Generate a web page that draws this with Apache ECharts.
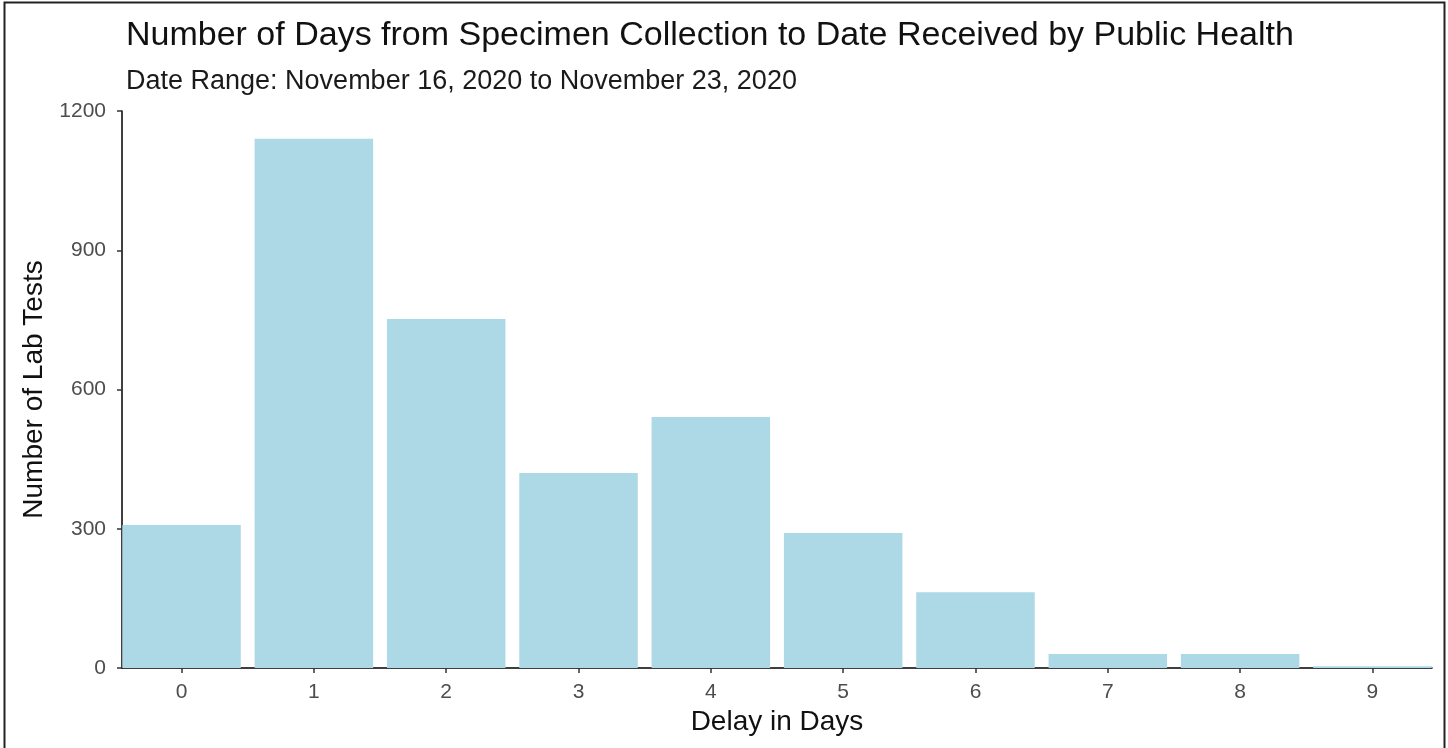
<!DOCTYPE html>
<html>
<head>
<meta charset="utf-8">
<script src="https://cdn.jsdelivr.net/npm/echarts@6/dist/echarts.min.js"></script>
<style>
html,body{margin:0;padding:0;background:#fff;}
#chart{width:1448px;height:748px;}
</style>
</head>
<body>
<div id="chart"></div>
<script>
var titleText = 'Number of Days from Specimen Collection to Date Received by Public Health';
var subtitleText = 'Date Range: November 16, 2020 to November 23, 2020';
var xAxisTitle = 'Delay in Days';
var yAxisTitle = 'Number of Lab Tests';
var delayDays = [0, 1, 2, 3, 4, 5, 6, 7, 8, 9];
var labTests = [308, 1140, 752, 420, 541, 291, 163, 30, 30, 4];
var yTicks = [0, 300, 600, 900, 1200];

var chart = echarts.init(document.getElementById('chart'), null, {renderer: 'canvas'});
var font = '"Liberation Sans", Arial, sans-serif';
var barData = delayDays.map(function (d, i) { return [d, labTests[i]]; });

chart.setOption({
  animation: false,
  backgroundColor: '#ffffff',
  title: [{
    text: titleText,
    left: 121,
    top: 14,
    textStyle: {fontFamily: font, fontSize: 34, fontWeight: 'normal', color: '#111111'}
  }, {
    text: subtitleText,
    left: 121,
    top: 63,
    textStyle: {fontFamily: font, fontSize: 27, fontWeight: 'normal', color: '#1a1a1a'}
  }],
  graphic: [{
    type: 'rect',
    shape: {x: 4.5, y: 2.5, width: 1440, height: 760},
    style: {fill: 'none', stroke: '#222', lineWidth: 2}
  }],
  grid: {left: 122, right: 16, top: 111, bottom: 80, containLabel: false},
  xAxis: {
    type: 'value',
    min: -0.45,
    max: 9.45,
    splitLine: {show: false},
    axisLine: {show: true, onZero: false, lineStyle: {color: '#000', width: 1.5}},
    axisTick: {show: true, customValues: delayDays, length: 5, lineStyle: {color: '#333', width: 1.5}},
    axisLabel: {customValues: delayDays, margin: 14, fontFamily: font, fontSize: 21, color: '#4d4d4d',
      formatter: function (v) { return String(Math.round(v)); }},
    name: xAxisTitle,
    nameLocation: 'middle',
    nameGap: 40,
    nameTextStyle: {fontFamily: font, fontSize: 28, color: '#111'}
  },
  yAxis: {
    type: 'value',
    min: 0,
    max: 1200,
    interval: 300,
    splitLine: {show: false},
    axisLine: {show: true, onZero: false, lineStyle: {color: '#000', width: 1.5}},
    axisTick: {show: true, length: 5, lineStyle: {color: '#333', width: 1.5}},
    axisLabel: {margin: 16, fontFamily: font, fontSize: 21, color: '#4d4d4d',
      formatter: function (v) { return String(v); }},
    name: yAxisTitle,
    nameLocation: 'middle',
    nameGap: 72,
    nameTextStyle: {fontFamily: font, fontSize: 28, color: '#111'}
  },
  series: [{
    type: 'bar',
    data: barData,
    barWidth: 118.5,
    itemStyle: {color: '#ADD8E6'},
    z: 1
  }]
});
</script>
</body>
</html>
